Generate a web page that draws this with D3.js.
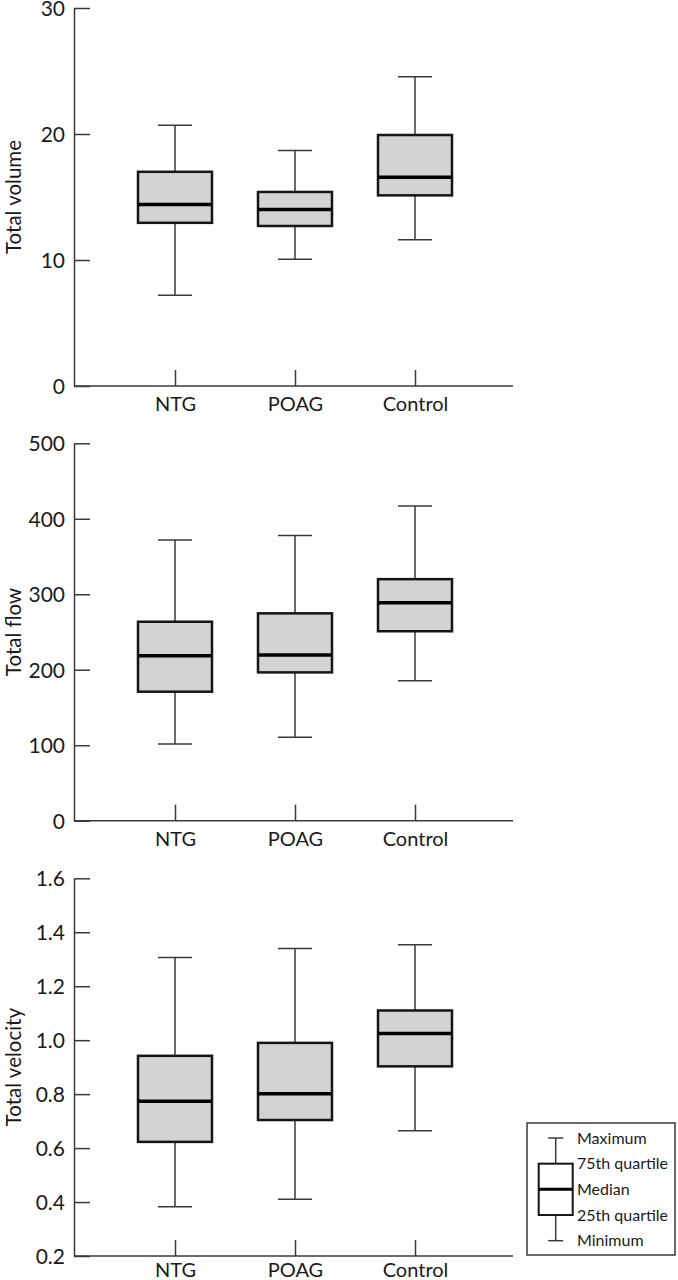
<!DOCTYPE html>
<html>
<head>
<meta charset="utf-8">
<script src="https://cdn.jsdelivr.net/npm/d3@7"></script>
<style>
  html, body { margin: 0; padding: 0; background: #fff; }
  svg { display: block; }
</style>
</head>
<body>
<svg id="chart" width="678" height="1280"></svg>
<script>
// ---- data ----
const categories = ["NTG", "POAG", "Control"];
// each entry: [minimum, 25th quartile, median, 75th quartile, maximum]
const totalVolume = [
  [7.2, 12.95, 14.4, 17.0, 20.7],
  [10.05, 12.7, 14.0, 15.4, 18.7],
  [11.6, 15.13, 16.56, 19.92, 24.55]
];
const totalFlow = [
  [101.6, 170.9, 218.5, 263.6, 372],
  [110.5, 196.5, 219.5, 274.7, 378],
  [185.4, 251, 288.7, 320, 417]
];
const totalVelocity = [
  [0.383, 0.623, 0.774, 0.942, 1.306],
  [0.41, 0.704, 0.801, 0.99, 1.34],
  [0.664, 0.903, 1.025, 1.11, 1.354]
];
const volumeTicks = [0, 10, 20, 30];
const flowTicks = [0, 100, 200, 300, 400, 500];
const velocityTicks = [0.2, 0.4, 0.6, 0.8, 1.0, 1.2, 1.4, 1.6];
const yTitles = ["Total volume", "Total flow", "Total velocity"];
const legendLabels = ["Maximum", "75th quartile", "Median", "25th quartile", "Minimum"];

// ---- layout ----
const FONT = "Lato, 'Open Sans', sans-serif";
const AX = "#3a3a3a";
const svg = d3.select("#chart");

const panels = [
  { title: yTitles[0], stats: totalVolume, ticks: volumeTicks, fmt: d3.format("d"), y0: 386, y1: 8 },
  { title: yTitles[1], stats: totalFlow, ticks: flowTicks, fmt: d3.format("d"), y0: 820.7, y1: 443.3 },
  { title: yTitles[2], stats: totalVelocity, ticks: velocityTicks, fmt: d3.format(".1f"), y0: 1256, y1: 878.3 }
];

const xLeft = 74, xRight = 513;
const x = d3.scalePoint().domain(categories).range([175, 415]);
const boxW = 74, capW = 34;

panels.forEach((p, pi) => {
  const y = d3.scaleLinear()
    .domain([p.ticks[0], p.ticks[p.ticks.length - 1]])
    .range([p.y0, p.y1]);
  const g = svg.append("g");

  // y axis
  const ya = g.append("g")
    .attr("transform", `translate(${xLeft},0)`)
    .call(d3.axisLeft(y).tickValues(p.ticks).tickFormat(p.fmt)
      .tickSizeInner(-16).tickSizeOuter(0).tickPadding(9));
  ya.select(".domain").attr("stroke", AX).attr("stroke-width", 1.5);
  ya.selectAll(".tick line").attr("stroke", AX).attr("stroke-width", 1.5);
  ya.selectAll(".tick text").attr("font-size", 21).attr("font-family", FONT).attr("fill", "#1a1a1a")
    .attr("dy", "0.35em");

  // x axis
  const xa = g.append("g")
    .attr("transform", `translate(0,${p.y0})`)
    .call(d3.axisBottom(x).tickSizeInner(-16).tickSizeOuter(0).tickPadding(0));
  xa.select(".domain").remove();
  xa.selectAll(".tick line").attr("stroke", AX).attr("stroke-width", 1.5);
  xa.selectAll(".tick text").attr("font-size", 20).attr("font-family", FONT).attr("fill", "#1a1a1a")
    .attr("y", 0).attr("dy", null).attr("transform", `translate(0,${pi === 2 ? 21 : 25})`);
  g.append("line")
    .attr("x1", xLeft).attr("x2", xRight).attr("y1", p.y0).attr("y2", p.y0)
    .attr("stroke", AX).attr("stroke-width", 1.5);

  // y title
  g.append("text")
    .attr("transform", `translate(21,${(p.y0 + p.y1) / 2}) rotate(-90)`)
    .attr("text-anchor", "middle")
    .attr("font-size", 20.5).attr("font-family", FONT).attr("fill", "#1a1a1a")
    .text(p.title);

  // boxes
  const b = g.selectAll("g.box").data(p.stats).join("g").attr("class", "box")
    .attr("transform", (d, i) => `translate(${x(categories[i])},0)`);
  // whiskers
  b.append("line").attr("x1", 0).attr("x2", 0)
    .attr("y1", d => y(d[4])).attr("y2", d => y(d[3]))
    .attr("stroke", AX).attr("stroke-width", 1.5);
  b.append("line").attr("x1", 0).attr("x2", 0)
    .attr("y1", d => y(d[1])).attr("y2", d => y(d[0]))
    .attr("stroke", AX).attr("stroke-width", 1.5);
  b.append("line").attr("x1", -capW / 2).attr("x2", capW / 2)
    .attr("y1", d => y(d[4])).attr("y2", d => y(d[4]))
    .attr("stroke", AX).attr("stroke-width", 1.5);
  b.append("line").attr("x1", -capW / 2).attr("x2", capW / 2)
    .attr("y1", d => y(d[0])).attr("y2", d => y(d[0]))
    .attr("stroke", AX).attr("stroke-width", 1.5);
  b.append("rect")
    .attr("x", -boxW / 2).attr("width", boxW)
    .attr("y", d => y(d[3])).attr("height", d => y(d[1]) - y(d[3]))
    .attr("fill", "#d3d3d3").attr("stroke", "#151515").attr("stroke-width", 2.5);
  b.append("line").attr("x1", -boxW / 2).attr("x2", boxW / 2)
    .attr("y1", d => y(d[2])).attr("y2", d => y(d[2]))
    .attr("stroke", "#000").attr("stroke-width", 3.5);
});

// ---- legend ----
const lg = svg.append("g");
lg.append("rect").attr("x", 527).attr("y", 1123).attr("width", 148).attr("height", 132)
  .attr("fill", "#fff").attr("stroke", AX).attr("stroke-width", 1.5);
const ly = d3.scalePoint().domain(legendLabels).range([1138, 1240.7]);
const lx = 555.7, lBoxW = 34, lCapW = 15;
lg.append("line").attr("x1", lx).attr("x2", lx)
  .attr("y1", ly(legendLabels[0])).attr("y2", ly(legendLabels[4]))
  .attr("stroke", AX).attr("stroke-width", 1.5);
[legendLabels[0], legendLabels[4]].forEach(k => {
  lg.append("line").attr("x1", lx - lCapW / 2).attr("x2", lx + lCapW / 2)
    .attr("y1", ly(k)).attr("y2", ly(k)).attr("stroke", AX).attr("stroke-width", 1.5);
});
lg.append("rect").attr("x", lx - lBoxW / 2).attr("width", lBoxW)
  .attr("y", ly(legendLabels[1])).attr("height", ly(legendLabels[3]) - ly(legendLabels[1]))
  .attr("fill", "#fff").attr("stroke", "#151515").attr("stroke-width", 2);
lg.append("line").attr("x1", lx - lBoxW / 2).attr("x2", lx + lBoxW / 2)
  .attr("y1", ly(legendLabels[2])).attr("y2", ly(legendLabels[2]))
  .attr("stroke", "#000").attr("stroke-width", 3);
lg.selectAll("text.lab").data(legendLabels).join("text").attr("class", "lab")
  .attr("x", 577).attr("y", d => ly(d)).attr("dy", "0.36em")
  .attr("font-size", 16).attr("font-family", FONT).attr("fill", "#1a1a1a")
  .text(d => d);
</script>
</body>
</html>
